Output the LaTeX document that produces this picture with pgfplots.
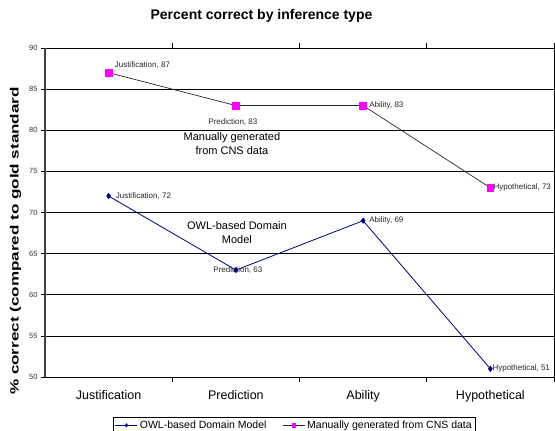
\documentclass[border=0pt]{standalone}
\usepackage{fontspec}
\setmainfont{Liberation Sans}
\usepackage{graphicx}
\usepackage{pgfplots}
\pgfplotsset{compat=1.18}
\definecolor{navyc}{RGB}{0,0,128}
\definecolor{mag}{RGB}{255,0,255}
\newcommand\lab{\fontsize{8}{9}\selectfont}
\begin{document}
\begin{tikzpicture}
\path[use as bounding box] (-45pt,-54pt) rectangle (510pt,377pt);
\begin{axis}[
 at={(0pt,0pt)}, anchor=south west,
 scale only axis, width=509pt, height=329pt,
 xmin=-0.5, xmax=3.5, ymin=50, ymax=90,
 xtick={0,1,2,3}, xticklabels={Justification,Prediction,Ability,Hypothetical},
 minor xtick={0.5,1.5,2.5,3.5},
 ytick={50,55,...,90},
 tick align=outside, major tick length=4pt, minor tick length=5pt,
 major x tick style={draw=none},
 tick style={black, line width=0.6pt},
 ymajorgrids, major grid style={black, line width=0.6pt},
 axis line style={black, line width=0.8pt},
 /pgf/number format/assume math mode=true,
 yticklabel style={font=\fontsize{7.5}{9}\selectfont, text=black!80},
 xticklabel style={font=\fontsize{12.5}{15}\selectfont, yshift=-6pt},
 clip=false,
 legend style={at={(axis description cs:0.49,-0.1216)}, anchor=north, draw=black, line width=0.6pt,
   font=\fontsize{10.5}{12}\selectfont, inner sep=1.5pt,
   /tikz/every even column/.append style={column sep=14pt}},
 legend columns=2, legend cell align=left,
 legend image code/.code={\draw[mark repeat=2,mark phase=2,#1, every mark/.append style={scale=0.6}] plot coordinates {(0pt,0pt) (11pt,0pt) (22pt,0pt)};},
]
\addplot[navyc, line width=0.8pt, mark=diamond*, mark size=2.5pt, mark options={fill=navyc,draw=navyc}]
  coordinates {(0,72) (1,63) (2,69) (3,51)};
\addlegendentry{OWL-based Domain Model}
\addplot[black!85, line width=0.7pt, mark=square*, mark size=3.3pt, mark options={fill=mag, draw=mag}]
  coordinates {(0,87) (1,83) (2,83) (3,73)};
\addlegendentry{Manually generated from CNS data}
\draw[line width=1.4pt, black!75] (rel axis cs:0,0) -- (rel axis cs:0,1);
\begin{scope}[every node/.style={font=\lab, text=black!85, inner sep=1pt}]
\node[anchor=west] at (axis cs:0,87) [xshift=5pt, yshift=8pt] {Justification, 87};
\node[anchor=center] at (axis cs:1,83) [xshift=-3pt, yshift=-17pt] {Prediction, 83};
\node[anchor=west] at (axis cs:2,83) [xshift=5pt] {Ability, 83};
\node[anchor=west] at (axis cs:3,73) [xshift=2pt] {Hypothetical, 73};
\node[anchor=west] at (axis cs:0,72) [xshift=6pt] {Justification, 72};
\node[anchor=center] at (axis cs:1,63) [xshift=2pt] {Prediction, 63};
\node[anchor=west] at (axis cs:2,69) [xshift=5pt] {Ability, 69};
\node[anchor=west] at (axis cs:3,51) [xshift=1pt] {Hypothetical, 51};
\end{scope}
\node[align=center, font=\fontsize{11}{14}\selectfont] at (axis cs:0.969,78.4) {Manually generated\\from CNS data};
\node[align=center, font=\fontsize{11}{14}\selectfont] at (axis cs:1.008,67.6) {OWL-based Domain\\Model};
\end{axis}
\node[font=\bfseries\fontsize{14}{16}\selectfont, anchor=base] at (216.5pt,357pt) {Percent correct by inference type};
\node[rotate=90, font=\bfseries\fontsize{12}{14}\selectfont] at (-29.5pt,136pt) {\scalebox{1.42}[1]{\% correct (compared to gold standard}};
\end{tikzpicture}
\end{document}
